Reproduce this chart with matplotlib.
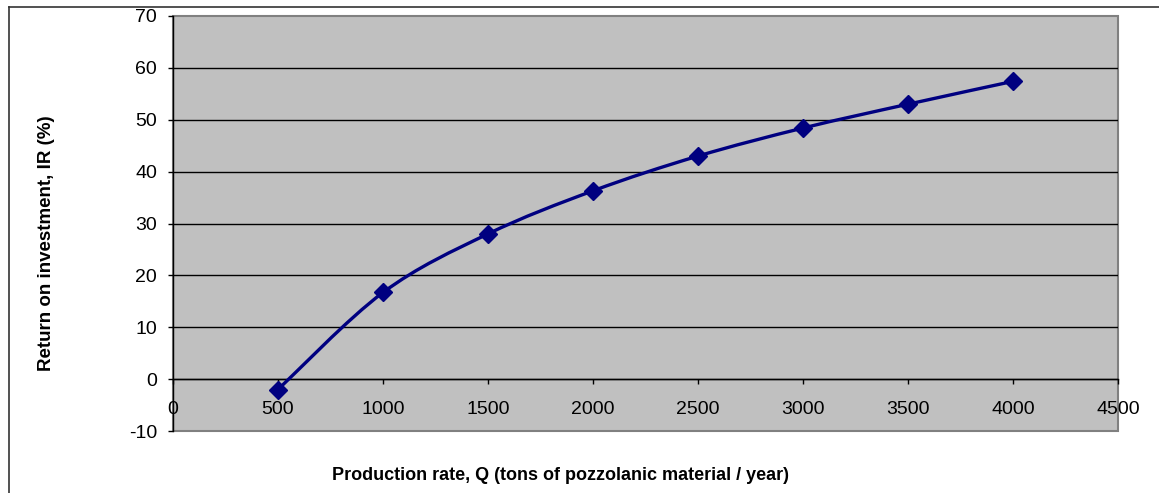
import matplotlib
matplotlib.use("Agg")
import matplotlib.pyplot as plt
import numpy as np
from matplotlib.path import Path
from matplotlib.patches import PathPatch, Rectangle
from matplotlib.lines import Line2D

# Return on investment vs. production rate
production_q = [500, 1000, 1500, 2000, 2500, 3000, 3500, 4000]
return_ir = [-2.0, 16.7, 28.0, 36.3, 43.0, 48.4, 53.0, 57.4]

x_ticks = [0, 500, 1000, 1500, 2000, 2500, 3000, 3500, 4000, 4500]
y_ticks = [-10, 0, 10, 20, 30, 40, 50, 60, 70]

x_label = "Production rate, Q (tons of pozzolanic material / year)"
y_label = "Return on investment, IR (%)"

W, H, DPI = 1159, 493, 100
plt.rcParams["font.family"] = ["Liberation Sans", "DejaVu Sans"]

fig = plt.figure(figsize=(W / DPI, H / DPI), dpi=DPI)
ax = fig.add_axes([173 / W, 62 / H, 945 / W, 415 / H])
ax.set_facecolor("#C0C0C0")

ax.set_xlim(0, 4500)
ax.set_ylim(-10, 70)
ax.set_xticks(x_ticks)
ax.set_yticks(y_ticks)
ax.set_xticklabels([str(v) for v in x_ticks])
ax.set_yticklabels([str(v) for v in y_ticks])

# horizontal gridlines
for v in y_ticks[1:-1]:
    ax.axhline(v, color="black", lw=1.0, zorder=1)

# spines: x axis sits at zero
for s in ("top", "right"):
    ax.spines[s].set_visible(False)
ax.spines["bottom"].set_position(("data", 0))
ax.spines["bottom"].set_color("black")
ax.spines["bottom"].set_linewidth(1.0)
ax.spines["left"].set_color("black")
ax.spines["left"].set_linewidth(1.0)
ax.add_patch(Rectangle((0, 0), 1, 1, transform=ax.transAxes, fill=False,
                       edgecolor="#808080", lw=1.5, zorder=0.5, clip_on=False))

ax.tick_params(axis="x", direction="out", length=3.6, width=1, pad=12,
               labelsize=14, colors="black")
ax.tick_params(axis="y", direction="out", length=3.6, width=1, pad=8,
               labelsize=14, colors="black")

# smoothed line (cubic Bezier through the points, Excel-style)
pts = np.column_stack([production_q, return_ir]).astype(float)
n = len(pts)
verts = [tuple(pts[0])]
codes = [Path.MOVETO]
for i in range(n - 1):
    p0 = pts[i - 1] if i > 0 else pts[i]
    p1 = pts[i]
    p2 = pts[i + 1]
    p3 = pts[i + 2] if i + 2 < n else pts[i + 1]
    c1 = p1 + (p2 - p0) / 6.0
    c2 = p2 - (p3 - p1) / 6.0
    verts += [tuple(c1), tuple(c2), tuple(p2)]
    codes += [Path.CURVE4] * 3
ax.add_patch(PathPatch(Path(verts, codes), fill=False, edgecolor="#000080",
                       lw=2.4, zorder=3, capstyle="round", joinstyle="round"))
ax.plot(production_q, return_ir, linestyle="none", marker="D",
        markersize=9, color="#000080", zorder=4)

fig.text(560 / W, 1 - 476 / H, x_label, ha="center", va="center",
         fontsize=13, fontweight="bold")
fig.text(47 / W, 1 - 243 / H, y_label, ha="center", va="center",
         rotation=90, fontsize=13.5, fontweight="bold")

# chart-area border
fig.add_artist(Line2D([8.5 / W, 1.0], [1 - 7 / H, 1 - 7 / H],
                      transform=fig.transFigure, color="#333333", lw=1.2))
fig.add_artist(Line2D([8.5 / W, 8.5 / W], [0.0, 1 - 7 / H],
                      transform=fig.transFigure, color="#333333", lw=1.2))

fig.savefig("out.png", dpi=DPI)
